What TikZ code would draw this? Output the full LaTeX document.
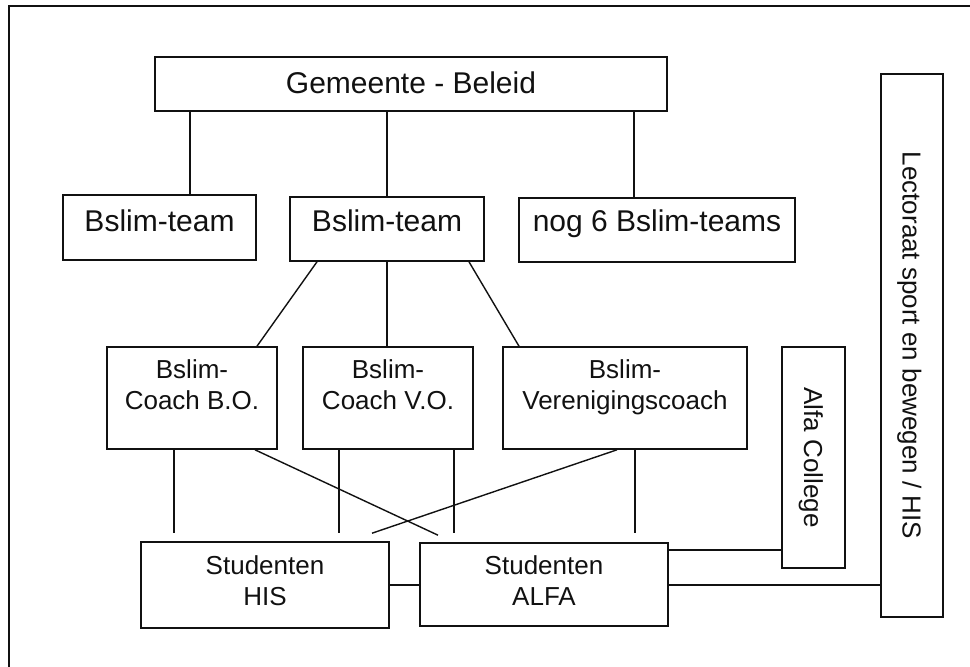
\documentclass[tikz,border=0pt]{standalone}
\usepackage{fontspec}
\setmainfont{Liberation Sans}
\usepackage{tikz}
\usetikzlibrary{positioning,calc}
\definecolor{ink}{HTML}{111111}
\newcommand{\bigtxt}{\fontsize{30}{36}\selectfont}
\newcommand{\smalltxt}{\fontsize{26}{31}\selectfont}
\tikzset{
  every node/.style={text=ink},
  block/.style={
    draw=ink,
    fill=white,
    line width=1.6pt,
    inner sep=0pt,
    align=center
  },
  bigblock/.style={block, font=\bigtxt, text height=22pt},
  % two lines: height is measured above the last baseline
  smallblock/.style={block, font=\smalltxt, text height=50pt},
  sideblock/.style={block, font=\smalltxt, text height=19pt, text depth=0pt, rotate=-90},
  link/.style={line width=1.4pt, draw=ink},
  frame/.style={line width=1.8pt, draw=ink}
}
\begin{document}
\begin{tikzpicture}[x=1pt, y=-1pt]
  \useasboundingbox (0,0) rectangle (970,667);

  % Outer frame
  \draw[frame] (9,667) -- (9,6) -- (970,6);

  % Top level
  \node[bigblock, minimum width=512, minimum height=54, text depth=4pt] (gem) at (411,84) {Gemeente - Beleid};

  % Teams
  \node[bigblock, minimum width=193, minimum height=65, text depth=15pt] (team1) at (159.5,227.5) {Bslim-team};
  \node[bigblock, minimum width=194, minimum height=64, text depth=17pt] (team2) at (387,229) {Bslim-team};
  \node[bigblock, minimum width=276, minimum height=64, text depth=20pt] (team3) at (657,230) {nog 6 Bslim-teams};

  % Coaches
  \node[smallblock, minimum width=170, minimum height=102, text depth=28pt] (bo) at (192,398) {Bslim-\\Coach B.O.};
  \node[smallblock, minimum width=170, minimum height=102, text depth=28pt] (vo) at (388,398) {Bslim-\\Coach V.O.};
  \node[smallblock, minimum width=244, minimum height=102, text depth=28pt] (ver) at (625,398) {Bslim-\\Verenigingscoach};

  % Students
  \node[smallblock, minimum width=248, minimum height=86, text depth=9pt] (his) at (265,585) {Studenten\\HIS};
  \node[smallblock, minimum width=248, minimum height=83, text depth=8pt] (alfa) at (544,584.5) {Studenten\\ALFA};

  % Side blocks
  \node[sideblock, minimum width=221, minimum height=63] (college) at (813.5,457.5) {Alfa College};
  \node[sideblock, minimum width=543, minimum height=62] (lect) at (912,345.5) {Lectoraat sport en bewegen / HIS};

  % Gemeente to teams
  \draw[link] ([xshift=30.5pt]team1.north) -- ([xshift=-221pt]gem.south);
  \draw[link] (team2.north) -- ([xshift=-24pt]gem.south);
  \draw[link] ([xshift=-23pt]team3.north) -- ([xshift=223pt]gem.south);

  % Team to coaches
  \draw[link] ([xshift=-70pt]team2.south) -- ([xshift=65pt]bo.north);
  \draw[link] (team2.south) -- ([xshift=-1pt]vo.north);
  \draw[link] ([xshift=82pt]team2.south) -- ([xshift=-106pt]ver.north);

  % Coaches to students
  \draw[link] ([xshift=-18pt]bo.south) -- ([xshift=-91pt,yshift=8pt]his.north);
  \draw[link] ([xshift=63pt]bo.south) -- ([xshift=-106pt,yshift=7pt]alfa.north);
  \draw[link] ([xshift=-49pt]vo.south) -- ([xshift=74pt,yshift=8pt]his.north);
  \draw[link] ([xshift=66pt]vo.south) -- ([xshift=-90pt,yshift=9pt]alfa.north);
  \draw[link] ([xshift=-8pt]ver.south) -- ([xshift=107pt,yshift=8pt]his.north);
  \draw[link] ([xshift=10pt]ver.south) -- ([xshift=91pt,yshift=9pt]alfa.north);

  % Students and side blocks
  \draw[link] (his.east) -- (his.east -| alfa.west);
  \coordinate (tocollege) at ([yshift=34.5pt]alfa.east);
  \coordinate (tolect) at ([yshift=-0.5pt]alfa.east);
  \draw[link] (tocollege) -- (tocollege -| college.south);
  \draw[link] (tolect) -- (tolect -| lect.south);
\end{tikzpicture}
\end{document}
